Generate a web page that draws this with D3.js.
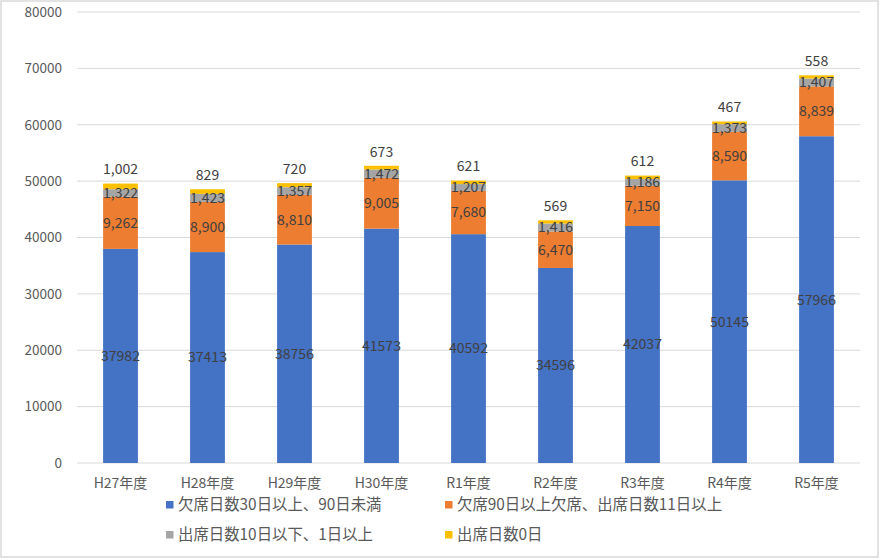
<!DOCTYPE html>
<html>
<head>
<meta charset="utf-8">
<script src="https://cdn.jsdelivr.net/npm/d3@7"></script>
<style>
  body { margin: 0; background: #fff; }
  text { font-family: "Noto Sans CJK JP", "Noto Sans", sans-serif; }
</style>
</head>
<body>
<svg id="chart"></svg>
<script>
// data
const years = ['H27年度', 'H28年度', 'H29年度', 'H30年度', 'R1年度', 'R2年度', 'R3年度', 'R4年度', 'R5年度'];
const absent30to90 = [37982, 37413, 38756, 41573, 40592, 34596, 42037, 50145, 57966];
const absent90plus = [9262, 8900, 8810, 9005, 7680, 6470, 7150, 8590, 8839];
const attend1to10 = [1322, 1423, 1357, 1472, 1207, 1416, 1186, 1373, 1407];
const attendZero = [1002, 829, 720, 673, 621, 569, 612, 467, 558];
const seriesNames = ['欠席日数30日以上、90日未満', '欠席90日以上欠席、出席日数11日以上', '出席日数10日以下、1日以上', '出席日数0日'];
const yTicks = [0, 10000, 20000, 30000, 40000, 50000, 60000, 70000, 80000];

const colors = ['#4472C4', '#ED7D31', '#A5A5A5', '#FFC000'];
const W = 880, H = 559;
const margin = {top: 12, right: 20, bottom: 96, left: 77};

const svg = d3.select('#chart').attr('width', W).attr('height', H);

// outer chart border
svg.append('rect')
    .attr('x', 1).attr('y', 1)
    .attr('width', W - 3).attr('height', H - 3)
    .attr('fill', '#fff')
    .attr('stroke', '#d9d9d9')
    .attr('stroke-width', 1.5);

const width = W - margin.left - margin.right;
const height = H - margin.top - margin.bottom;

const chart = svg.append('g')
    .attr('transform', `translate(${margin.left},${margin.top})`);

const table = years.map((y, i) => ({
    year: y,
    s0: absent30to90[i], s1: absent90plus[i], s2: attend1to10[i], s3: attendZero[i]
}));
const keys = ['s0', 's1', 's2', 's3'];
const stacked = d3.stack().keys(keys)(table);

const xScale = d3.scaleBand()
    .domain(years)
    .range([0, width])
    .paddingInner(0.6)
    .paddingOuter(0.3);

const yScale = d3.scaleLinear()
    .domain([0, 80000])
    .range([height, 0]);

// gridlines
chart.append('g')
    .selectAll('line')
    .data(yTicks)
    .join('line')
    .attr('x1', 0).attr('x2', width)
    .attr('y1', d => yScale(d)).attr('y2', d => yScale(d))
    .attr('stroke', '#d9d9d9')
    .attr('stroke-width', 1);

// y axis labels
const yAxis = d3.axisLeft(yScale).tickValues(yTicks).tickSize(0).tickPadding(15)
    .tickFormat(d3.format('d'));
const yAxisG = chart.append('g').call(yAxis);
yAxisG.select('.domain').remove();
yAxisG.selectAll('text').attr('fill', '#595959').style('font-size', '13.5px');

// x axis labels
const xAxis = d3.axisBottom(xScale).tickSize(0).tickPadding(15);
const xAxisG = chart.append('g')
    .attr('transform', `translate(0,${height})`)
    .call(xAxis);
xAxisG.select('.domain').remove();
xAxisG.selectAll('text').attr('fill', '#595959').style('font-size', '14px');

// bars
const layers = chart.selectAll('.layer')
    .data(stacked)
    .join('g')
    .attr('class', 'layer')
    .attr('fill', (d, i) => colors[i]);

layers.selectAll('rect')
    .data(d => d)
    .join('rect')
    .attr('x', d => xScale(d.data.year))
    .attr('width', xScale.bandwidth())
    .attr('y', d => yScale(d[1]))
    .attr('height', d => yScale(d[0]) - yScale(d[1]));

// labels
const comma = d3.format(',');
stacked.forEach((layer, li) => {
    chart.append('g')
        .selectAll('text')
        .data(layer)
        .join('text')
        .attr('x', d => xScale(d.data.year) + xScale.bandwidth() / 2)
        .attr('y', d => li === 3 ? yScale(d[1]) - 14 : (yScale(d[0]) + yScale(d[1])) / 2)
        .attr('dy', '0.35em')
        .attr('text-anchor', 'middle')
        .attr('fill', '#404040')
        .style('font-size', '14px')
        .text(d => li === 0 ? d3.format('d')(d[1] - d[0]) : comma(d[1] - d[0]));
});

// legend
const legendPos = [[166, 505], [445, 505], [166, 535], [445, 535]];
const legend = svg.append('g');
seriesNames.forEach((name, i) => {
    const g = legend.append('g').attr('transform', `translate(${legendPos[i][0]},${legendPos[i][1]})`);
    g.append('rect').attr('x', 0).attr('y', -4).attr('width', 7.5).attr('height', 7.5).attr('fill', colors[i]);
    g.append('text').attr('x', 12).attr('y', 0).attr('dy', '0.35em')
        .attr('fill', '#595959').style('font-size', '15.4px').text(name);
});
</script>
</body>
</html>
